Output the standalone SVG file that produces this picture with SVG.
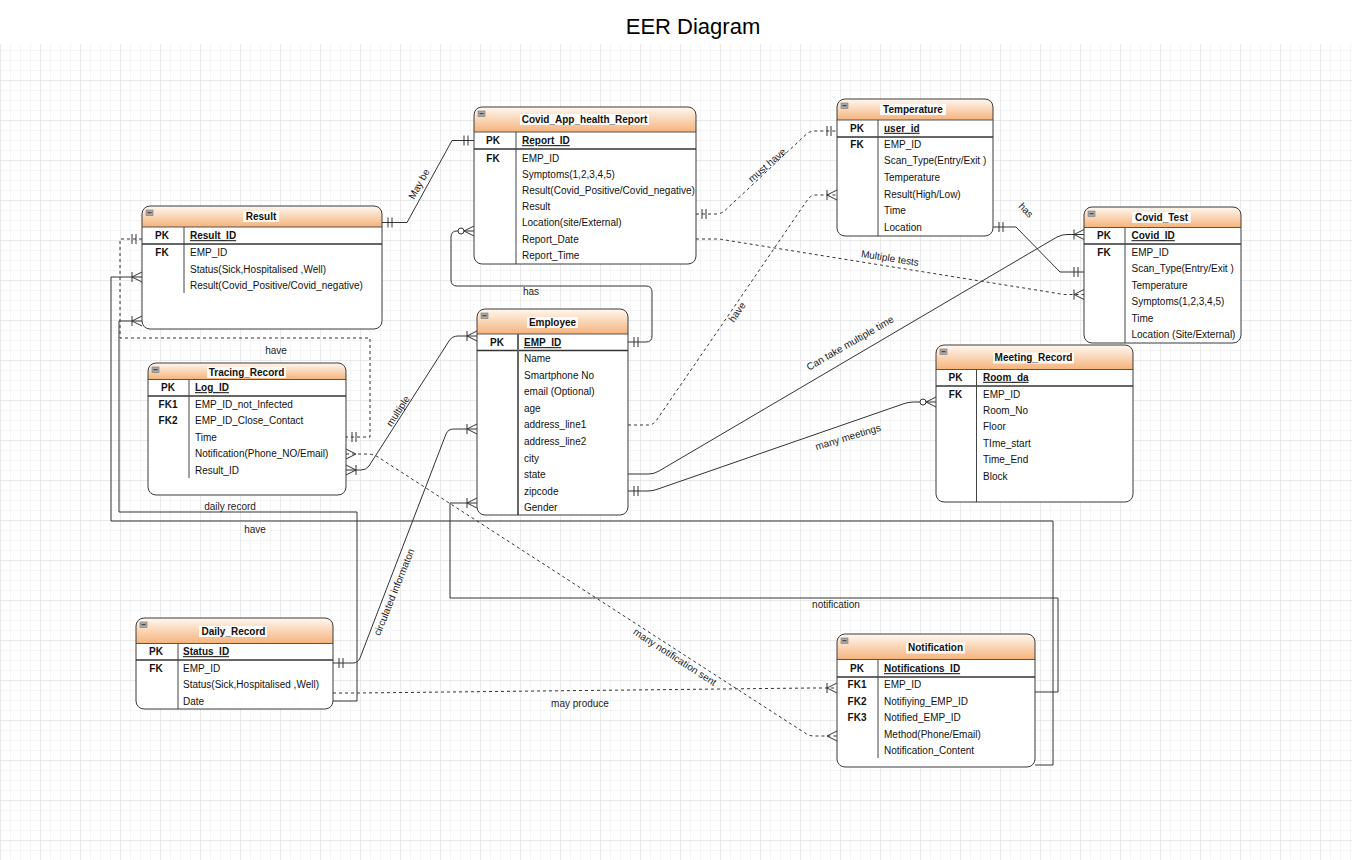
<svg xmlns="http://www.w3.org/2000/svg" width="1352" height="860" viewBox="0 0 1352 860">
<style>
.t{font-family:"Liberation Sans",Arial,Helvetica,sans-serif;font-size:10px;fill:#111}
.b{font-weight:bold}
.u{text-decoration:underline}
.m{text-anchor:middle}
.lbl{font-family:"Liberation Sans",Arial,Helvetica,sans-serif;font-size:10px;fill:#222;text-anchor:middle}
.title{font-family:"Liberation Sans",Arial,Helvetica,sans-serif;font-size:22px;fill:#000;text-anchor:middle}
.body{fill:#fff;stroke:none}
.frame{fill:none;stroke:#3a3a3a;stroke-width:1}
.hdr{fill:url(#hg);stroke:none}
.sep{stroke:#555;stroke-width:1}
.pkl{stroke:#333;stroke-width:1.5}
.dv{stroke:#444;stroke-width:1}
.dv2{stroke:#666;stroke-width:2}
.ico{fill:#a8a8a8;stroke:#777;stroke-width:0.6}
.icl{stroke:#333;stroke-width:1}
.tbg{fill:#fff;fill-opacity:0.9}
.c{fill:none;stroke:#333;stroke-width:1}
.d{stroke-dasharray:3 3}
.mk{fill:none;stroke:#333;stroke-width:1}
</style>
<defs>
<linearGradient id="hg" x1="0" y1="0" x2="0" y2="1">
<stop offset="0" stop-color="#fff8f1"/>
<stop offset="1" stop-color="#f5b37b"/>
</linearGradient>
<pattern id="g1" width="10" height="10" patternUnits="userSpaceOnUse">
<path d="M10 0H0V10" fill="none" stroke="#ececec" stroke-width="1"/>
</pattern>
<pattern id="g2" width="40" height="40" patternUnits="userSpaceOnUse">
<path d="M40 0H0V40" fill="none" stroke="#dedede" stroke-width="1"/>
</pattern>
<marker id="mOne" viewBox="-16 -8 17 16" refX="0" refY="0" markerWidth="17" markerHeight="16" markerUnits="userSpaceOnUse" orient="auto-start-reverse" overflow="visible">
<path class="mk" d="M-6,-5V5M-10,-5V5"/>
</marker>
<marker id="mMany" viewBox="-16 -8 17 16" refX="0" refY="0" markerWidth="17" markerHeight="16" markerUnits="userSpaceOnUse" orient="auto-start-reverse" overflow="visible">
<path class="mk" d="M-10,-5V5M-10,0L0,-5M-10,0L0,5"/>
</marker>
<marker id="many" viewBox="-16 -8 17 16" refX="0" refY="0" markerWidth="17" markerHeight="16" markerUnits="userSpaceOnUse" orient="auto-start-reverse" overflow="visible">
<path class="mk" d="M-10,0L0,-5M-10,0L0,5"/>
</marker>
<marker id="zMany" viewBox="-20 -8 21 16" refX="0" refY="0" markerWidth="21" markerHeight="16" markerUnits="userSpaceOnUse" orient="auto-start-reverse" overflow="visible">
<path class="mk" d="M-10,0L0,-5M-10,0L0,5"/>
<circle cx="-13" cy="0" r="3" fill="#fff" stroke="#333" stroke-width="1"/>
</marker>
</defs>

<rect x="0" y="0" width="1352" height="860" fill="#fff"/>
<rect x="0" y="44" width="1352" height="816" fill="url(#g1)"/>
<rect x="0" y="44" width="1352" height="816" fill="url(#g2)"/>

<text class="title" x="693" y="34">EER Diagram</text>

<g id="connectors">
<path id="e-maybe" class="c" d="M382,222.5H407L452,140.5H474" marker-start="url(#mOne)" marker-end="url(#mOne)"/>
<path id="e-musthave" class="c d" d="M696,214H716Q721,214 725,210.5L806,134.5Q810,131 815,131H837" marker-start="url(#mOne)" marker-end="url(#mOne)"/>
<path id="e-have-temp" class="c d" d="M628,425H648Q653,425 656,421L808,199Q811,195 816,195H837" marker-end="url(#mMany)"/>
<path id="e-multitests" class="c d" d="M696,239H716Q722,239 728,240.5L1058,293.5Q1062,294.5 1066,294.5H1084" marker-end="url(#mMany)"/>
<path id="e-has-test" class="c" d="M993,227H1016L1060,272H1084" marker-start="url(#mOne)" marker-end="url(#mOne)"/>
<path id="e-cantake" class="c" d="M628,474H649Q654,474 659,471L1057,237Q1062,234.5 1067,234.5H1084" marker-end="url(#mMany)"/>
<path id="e-meetings" class="c" d="M628,491H648Q653,491 658,489L903,404Q908,402 913,402H936" marker-start="url(#mOne)" marker-end="url(#zMany)"/>
<path id="e-has-report" class="c" d="M628,342H646Q652,342 652,336V292Q652,286 646,286H457Q451,286 451,280V237Q451,231 457,231H474" marker-start="url(#mOne)" marker-end="url(#zMany)"/>
<path id="e-multiple" class="c" d="M346,470H361Q366,470 369,466L449,341Q452,336 458,336H477" marker-start="url(#mMany)" marker-end="url(#mMany)"/>
<path id="e-circulated" class="c" d="M333,663H353Q358,663 360,658L446,434Q448,429 454,429H477" marker-start="url(#mOne)" marker-end="url(#mMany)"/>
<path id="e-notification" class="c" d="M477,503H450V598H1058V692H1035" marker-start="url(#mMany)"/>
<path id="e-have-tracing" class="c d" d="M142,239H120V338H370V437H346" marker-start="url(#mOne)" marker-end="url(#mOne)"/>
<path id="e-daily" class="c" d="M142,321H119V512H357V701H333" marker-start="url(#mMany)"/>
<path id="e-have-notif" class="c" d="M142,277H111V521H1053V765H1035" marker-start="url(#mMany)"/>
<path id="e-mayproduce" class="c d" d="M333,693H358L812,688H837" marker-end="url(#mMany)"/>
<path id="e-notifsent" class="c d" d="M346,454H367Q373,454 378,457L805,733Q809,736 814,736H837" marker-start="url(#many)" marker-end="url(#many)"/>

<text class="lbl" transform="translate(419,184) rotate(-61)" y="3.5">May be</text>
<text class="lbl" transform="translate(767,165) rotate(-41)" y="3.5">must have</text>
<text class="lbl" transform="translate(737,312) rotate(-55)" y="3.5">have</text>
<text class="lbl" transform="translate(890,258) rotate(9)" y="3.5">Multiple tests</text>
<text class="lbl" transform="translate(1026,210) rotate(46)" y="3.5">has</text>
<text class="lbl" transform="translate(850,343) rotate(-30)" y="3.5">Can take multiple time</text>
<text class="lbl" transform="translate(848,437) rotate(-17)" y="3.5">many meetings</text>
<text class="lbl" x="531" y="294.5">has</text>
<text class="lbl" transform="translate(398,411) rotate(-57)" y="3.5">multiple</text>
<text class="lbl" transform="translate(394,592) rotate(-68)" y="3.5">circulated informaton</text>
<text class="lbl" x="836" y="607.5">notification</text>
<text class="lbl" x="276" y="353.5">have</text>
<text class="lbl" x="230" y="510">daily record</text>
<text class="lbl" x="255" y="532.5">have</text>
<text class="lbl" x="580" y="706.5">may produce</text>
<text class="lbl" transform="translate(675,657) rotate(33)" y="3.5">many notification sent</text>
</g>

<g id="result">
<rect class="body" x="142" y="206" width="240" height="123" rx="8"/>
<path class="hdr" d="M142,227V214Q142,206 150,206H374Q382,206 382,214V227Z"/>
<line class="sep" x1="142" y1="227" x2="382" y2="227"/>
<line class="pkl" x1="142" y1="244" x2="382" y2="244"/>
<line class="dv" x1="184" y1="227" x2="184" y2="293"/>
<rect class="frame" x="142" y="206" width="240" height="123" rx="8"/>
<rect class="ico" x="146" y="210" width="7" height="5.5"/><line class="icl" x1="147.5" y1="212.7" x2="151.5" y2="212.7"/>
<rect class="tbg" x="243" y="211" width="36" height="11"/>
<text class="t b m" x="261" y="219.5">Result</text>
<text class="t b m" x="162" y="239.2">PK</text>
<text class="t b u" x="190" y="239.2">Result_ID</text>
<text class="t b m" x="162" y="255.8">FK</text>
<text class="t" x="190" y="255.8">EMP_ID</text>
<text class="t" x="190" y="272.6">Status(Sick,Hospitalised ,Well)</text>
<text class="t" x="190" y="289.4">Result(Covid_Positive/Covid_negative)</text>
</g>

<g id="covid-app-health-report">
<rect class="body" x="474" y="107" width="222" height="157" rx="8"/>
<path class="hdr" d="M474,132V115Q474,107 482,107H688Q696,107 696,115V132Z"/>
<line class="sep" x1="474" y1="132" x2="696" y2="132"/>
<line class="pkl" x1="474" y1="149" x2="696" y2="149"/>
<line class="dv" x1="516" y1="132" x2="516" y2="264"/>
<rect class="frame" x="474" y="107" width="222" height="157" rx="8"/>
<rect class="ico" x="478" y="111" width="7" height="5.5"/><line class="icl" x1="479.5" y1="113.7" x2="483.5" y2="113.7"/>
<rect class="tbg" x="520" y="114" width="129" height="11"/>
<text class="t b m" x="584.5" y="123">Covid_App_health_Report</text>
<text class="t b m" x="493" y="144.2">PK</text>
<text class="t b u" x="522" y="144.2">Report_ID</text>
<text class="t b m" x="493" y="162">FK</text>
<text class="t" x="522" y="162">EMP_ID</text>
<text class="t" x="522" y="178.1">Symptoms(1,2,3,4,5)</text>
<text class="t" x="522" y="194.2">Result(Covid_Positive/Covid_negative)</text>
<text class="t" x="522" y="210.3">Result</text>
<text class="t" x="522" y="226.4">Location(site/External)</text>
<text class="t" x="522" y="242.5">Report_Date</text>
<text class="t" x="522" y="258.6">Report_Time</text>
</g>

<g id="temperature">
<rect class="body" x="837" y="99" width="156" height="137" rx="8"/>
<path class="hdr" d="M837,120V107Q837,99 845,99H985Q993,99 993,107V120Z"/>
<line class="sep" x1="837" y1="120" x2="993" y2="120"/>
<line class="pkl" x1="837" y1="137" x2="993" y2="137"/>
<line class="dv" x1="878" y1="120" x2="878" y2="236"/>
<rect class="frame" x="837" y="99" width="156" height="137" rx="8"/>
<rect class="ico" x="841" y="103" width="7" height="5.5"/><line class="icl" x1="842.5" y1="105.7" x2="846.5" y2="105.7"/>
<rect class="tbg" x="880" y="104" width="66" height="11"/>
<text class="t b m" x="913" y="113">Temperature</text>
<text class="t b m" x="857" y="131.8">PK</text>
<text class="t b u" x="884" y="131.8">user_id</text>
<text class="t b m" x="857" y="147.8">FK</text>
<text class="t" x="884" y="147.8">EMP_ID</text>
<text class="t" x="884" y="164.4">Scan_Type(Entry/Exit )</text>
<text class="t" x="884" y="181">Temperature</text>
<text class="t" x="884" y="197.6">Result(High/Low)</text>
<text class="t" x="884" y="214.2">Time</text>
<text class="t" x="884" y="230.8">Location</text>
</g>

<g id="covid-test">
<rect class="body" x="1084" y="207" width="157" height="136" rx="8"/>
<path class="hdr" d="M1084,227.5V215Q1084,207 1092,207H1233Q1241,207 1241,215V227.5Z"/>
<line class="sep" x1="1084" y1="227.5" x2="1241" y2="227.5"/>
<line class="pkl" x1="1084" y1="244" x2="1241" y2="244"/>
<line class="dv" x1="1125" y1="227.5" x2="1125" y2="343"/>
<rect class="frame" x="1084" y="207" width="157" height="136" rx="8"/>
<rect class="ico" x="1088" y="211" width="7" height="5.5"/><line class="icl" x1="1089.5" y1="213.7" x2="1093.5" y2="213.7"/>
<rect class="tbg" x="1132" y="212" width="59" height="11"/>
<text class="t b m" x="1161.5" y="220.5">Covid_Test</text>
<text class="t b m" x="1104" y="239.2">PK</text>
<text class="t b u" x="1131.5" y="239.2">Covid_ID</text>
<text class="t b m" x="1104" y="256">FK</text>
<text class="t" x="1131.5" y="256">EMP_ID</text>
<text class="t" x="1131.5" y="272">Scan_Type(Entry/Exit )</text>
<text class="t" x="1131.5" y="288.6">Temperature</text>
<text class="t" x="1131.5" y="305.2">Symptoms(1,2,3,4,5)</text>
<text class="t" x="1131.5" y="321.8">Time</text>
<text class="t" x="1131.5" y="338">Location (Site/External)</text>
</g>

<g id="tracing-record">
<rect class="body" x="148" y="363" width="198" height="132" rx="8"/>
<path class="hdr" d="M148,379.5V371Q148,363 156,363H338Q346,363 346,371V379.5Z"/>
<line class="sep" x1="148" y1="379.5" x2="346" y2="379.5"/>
<line class="pkl" x1="148" y1="396" x2="346" y2="396"/>
<line class="dv" x1="189" y1="379.5" x2="189" y2="478"/>
<rect class="frame" x="148" y="363" width="198" height="132" rx="8"/>
<rect class="ico" x="152" y="367" width="7" height="5.5"/><line class="icl" x1="153.5" y1="369.7" x2="157.5" y2="369.7"/>
<rect class="tbg" x="207" y="367" width="79" height="11"/>
<text class="t b m" x="246.5" y="375.5">Tracing_Record</text>
<text class="t b m" x="168" y="391.2">PK</text>
<text class="t b u" x="195" y="391.2">Log_ID</text>
<text class="t b m" x="168" y="407.8">FK1</text>
<text class="t" x="195" y="407.8">EMP_ID_not_Infected</text>
<text class="t b m" x="168" y="423.8">FK2</text>
<text class="t" x="195" y="423.8">EMP_ID_Close_Contact</text>
<text class="t" x="195" y="440.8">Time</text>
<text class="t" x="195" y="457.2">Notification(Phone_NO/Email)</text>
<text class="t" x="195" y="473.8">Result_ID</text>
</g>

<g id="employee">
<rect class="body" x="477" y="309" width="151" height="206" rx="8"/>
<path class="hdr" d="M477,334V317Q477,309 485,309H620Q628,309 628,317V334Z"/>
<line class="sep" x1="477" y1="334" x2="628" y2="334"/>
<line class="pkl" x1="477" y1="350.5" x2="628" y2="350.5"/>
<line class="dv2" x1="518" y1="334" x2="518" y2="515"/>
<rect class="frame" x="477" y="309" width="151" height="206" rx="8"/>
<rect class="ico" x="481" y="313" width="7" height="5.5"/><line class="icl" x1="482.5" y1="315.7" x2="486.5" y2="315.7"/>
<rect class="tbg" x="527" y="317" width="51" height="11"/>
<text class="t b m" x="552.5" y="325.5">Employee</text>
<text class="t b m" x="497" y="346.2">PK</text>
<text class="t b u" x="524" y="346.2">EMP_ID</text>
<text class="t" x="524" y="362.2">Name</text>
<text class="t" x="524" y="378.8">Smartphone No</text>
<text class="t" x="524" y="395.3">email (Optional)</text>
<text class="t" x="524" y="411.9">age</text>
<text class="t" x="524" y="428.4">address_line1</text>
<text class="t" x="524" y="445">address_line2</text>
<text class="t" x="524" y="461.5">city</text>
<text class="t" x="524" y="478.1">state</text>
<text class="t" x="524" y="494.6">zipcode</text>
<text class="t" x="524" y="511.2">Gender</text>
</g>

<g id="meeting-record">
<rect class="body" x="936" y="345" width="197" height="157" rx="8"/>
<path class="hdr" d="M936,369.5V353Q936,345 944,345H1125Q1133,345 1133,353V369.5Z"/>
<line class="sep" x1="936" y1="369.5" x2="1133" y2="369.5"/>
<line class="pkl" x1="936" y1="386" x2="1133" y2="386"/>
<line class="dv" x1="976.5" y1="369.5" x2="976.5" y2="502"/>
<rect class="frame" x="936" y="345" width="197" height="157" rx="8"/>
<rect class="ico" x="940" y="349" width="7" height="5.5"/><line class="icl" x1="941.5" y1="351.7" x2="945.5" y2="351.7"/>
<rect class="tbg" x="993" y="352.5" width="81" height="11"/>
<text class="t b m" x="1033.5" y="361">Meeting_Record</text>
<text class="t b m" x="955.5" y="380.8">PK</text>
<text class="t b u" x="983" y="380.8">Room_da</text>
<text class="t b m" x="955.5" y="397.5">FK</text>
<text class="t" x="983" y="397.5">EMP_ID</text>
<text class="t" x="983" y="413.9">Room_No</text>
<text class="t" x="983" y="430.3">Floor</text>
<text class="t" x="983" y="446.7">TIme_start</text>
<text class="t" x="983" y="463.1">Time_End</text>
<text class="t" x="983" y="479.5">Block</text>
</g>

<g id="daily-record">
<rect class="body" x="136" y="618" width="197" height="91" rx="8"/>
<path class="hdr" d="M136,643.5V626Q136,618 144,618H325Q333,618 333,626V643.5Z"/>
<line class="sep" x1="136" y1="643.5" x2="333" y2="643.5"/>
<line class="pkl" x1="136" y1="660" x2="333" y2="660"/>
<line class="dv" x1="178" y1="643.5" x2="178" y2="709"/>
<rect class="frame" x="136" y="618" width="197" height="91" rx="8"/>
<rect class="ico" x="140" y="622" width="7" height="5.5"/><line class="icl" x1="141.5" y1="624.7" x2="145.5" y2="624.7"/>
<rect class="tbg" x="199" y="626" width="68" height="11"/>
<text class="t b m" x="233.5" y="634.5">Daily_Record</text>
<text class="t b m" x="156" y="655.2">PK</text>
<text class="t b u" x="183" y="655.2">Status_ID</text>
<text class="t b m" x="156" y="672.2">FK</text>
<text class="t" x="183" y="672.2">EMP_ID</text>
<text class="t" x="183" y="688.2">Status(Sick,Hospitalised ,Well)</text>
<text class="t" x="183" y="704.5">Date</text>
</g>

<g id="notification">
<rect class="body" x="837" y="634" width="198" height="133" rx="8"/>
<path class="hdr" d="M837,659.5V642Q837,634 845,634H1027Q1035,634 1035,642V659.5Z"/>
<line class="sep" x1="837" y1="659.5" x2="1035" y2="659.5"/>
<line class="pkl" x1="837" y1="677" x2="1035" y2="677"/>
<line class="dv" x1="878" y1="659.5" x2="878" y2="758"/>
<rect class="frame" x="837" y="634" width="198" height="133" rx="8"/>
<rect class="ico" x="841" y="638" width="7" height="5.5"/><line class="icl" x1="842.5" y1="640.7" x2="846.5" y2="640.7"/>
<rect class="tbg" x="906" y="642.5" width="59" height="11"/>
<text class="t b m" x="935.5" y="651">Notification</text>
<text class="t b m" x="857" y="672.2">PK</text>
<text class="t b u" x="884" y="672.2">Notifications_ID</text>
<text class="t b m" x="857" y="688.2">FK1</text>
<text class="t" x="884" y="688.2">EMP_ID</text>
<text class="t b m" x="857" y="704.8">FK2</text>
<text class="t" x="884" y="704.8">Notifiying_EMP_ID</text>
<text class="t b m" x="857" y="720.8">FK3</text>
<text class="t" x="884" y="720.8">Notified_EMP_ID</text>
<text class="t" x="884" y="738.2">Method(Phone/Email)</text>
<text class="t" x="884" y="753.8">Notification_Content</text>
</g>
</svg>
